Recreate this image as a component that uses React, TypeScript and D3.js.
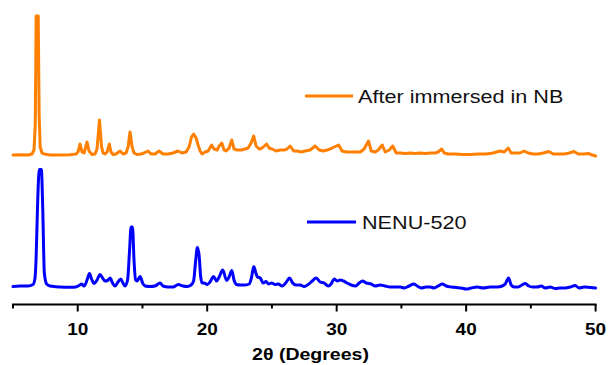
import React from "react";
import * as d3 from "d3";

// 2θ ticks
const majorTicks = [10, 20, 30, 40, 50];
const minorTicks = [5, 15, 25, 35, 45];

// Series labels
const seriesNames = ["After immersed in NB", "NENU-520"];
const seriesColors = ["#FF8000", "#0000FF"];
// vertical offsets of the stacked patterns (a.u.)
const seriesOffsets = [149.5, 18.5];

// After immersed in NB (2θ, intensity a.u.)
const nbTheta = [
  5.0, 5.54, 6.16, 6.47, 6.62, 6.72, 6.79, 6.85, 6.95, 7.02, 7.1, 7.24, 7.4,
  7.86, 8.63, 9.4, 9.87, 10.02, 10.18, 10.33, 10.49, 10.72, 10.87, 11.11, 11.34,
  11.49, 11.68, 11.84, 11.96, 12.11, 12.27, 12.44, 12.57, 12.73, 12.96, 13.27,
  13.5, 13.73, 13.89, 14.04, 14.2, 14.35, 14.58, 14.89, 15.12, 15.43, 15.66,
  15.97, 16.28, 16.59, 16.98, 17.36, 17.75, 18.06, 18.37, 18.6, 18.79, 18.95,
  19.14, 19.3, 19.45, 19.61, 19.84, 20.07, 20.34, 20.53, 20.77, 20.92, 21.13,
  21.3, 21.46, 21.69, 21.9, 22.07, 22.31, 22.62, 22.93, 23.16, 23.39, 23.59,
  23.78, 24.01, 24.24, 24.59, 24.78, 25.02, 25.32, 25.63, 25.94, 26.17, 26.41,
  26.68, 26.95, 27.26, 27.57, 27.95, 28.34, 28.65, 28.96, 29.27, 29.5, 29.81,
  30.15, 30.42, 30.73, 31.04, 31.43, 31.82, 32.12, 32.46, 32.67, 32.98, 33.21,
  33.52, 33.75, 34.06, 34.33, 34.6, 34.91, 35.29, 35.68, 36.07, 36.45, 36.84,
  37.23, 37.61, 37.84, 38.11, 38.31, 38.62, 39.16, 39.7, 40.32, 40.94, 41.55,
  42.09, 42.63, 42.94, 43.25, 43.48, 43.87, 44.17, 44.48, 44.79, 45.18, 45.57,
  45.96, 46.38, 46.73, 47.12, 47.58, 47.97, 48.32, 48.66, 49.05, 49.44, 49.75,
  50.0,
];
const nbIntensity = [
  0, 0.3, 0, 1, 5, 30, 139, 139, 139, 40, 8, 2, 1,
  0, 0, 0.3, 1, 3, 11, 3, 2, 13, 4, 0.5, 1,
  6, 35, 8, 2, 1, 3, 11, 3, 0.5, 1, 4,
  1, 2, 8, 23, 8, 2, 0.5, 1, 2, 4, 1,
  1, 4, 1, 1, 2, 4, 2, 3, 8, 18, 21,
  17, 10, 4, 1, 3, 4, 10, 6, 5, 9, 12,
  5, 4, 7, 15, 6, 5, 5, 6, 7, 12, 19,
  9, 6, 7, 11, 7, 6, 4, 5, 5, 6, 9,
  4, 4, 3, 4, 5, 9, 5, 4, 5, 6, 8,
  10, 4, 3, 3, 3, 3, 6, 14, 4, 3, 5,
  10, 3, 5, 9, 2, 2, 1.5, 2, 1.5, 2, 1.5,
  2, 2, 3, 6, 2, 1, 1, 0.5, 0.5, 1, 1,
  2, 4, 3, 7, 2, 2, 2, 4, 2, 1, 1,
  2, 3.5, 1, 1, 1, 2, 3.5, 1, 1, 1.5, 0,
  -1,
];

// NENU-520 (2θ, intensity a.u.)
const nenuTheta = [
  5.0, 5.54, 6.16, 6.55, 6.7, 6.78, 6.91, 7.03, 7.19, 7.3, 7.42, 7.6, 7.86,
  8.63, 9.4, 9.87, 10.1, 10.31, 10.49, 10.72, 10.9, 11.07, 11.26, 11.49, 11.72,
  11.92, 12.11, 12.3, 12.5, 12.69, 12.88, 13.11, 13.32, 13.49, 13.65, 13.85,
  14.0, 14.12, 14.23, 14.35, 14.47, 14.58, 14.82, 15.01, 15.2, 15.59, 15.97,
  16.36, 16.59, 16.98, 17.36, 17.77, 18.14, 18.45, 18.76, 18.95, 19.1, 19.24,
  19.38, 19.49, 19.61, 19.76, 19.99, 20.22, 20.49, 20.72, 20.92, 21.2, 21.5,
  21.69, 21.9, 22.07, 22.27, 22.54, 22.93, 23.24, 23.43, 23.6, 23.78, 23.89,
  24.09, 24.32, 24.55, 24.74, 24.98, 25.25, 25.48, 25.79, 26.06, 26.37, 26.6,
  26.87, 27.18, 27.49, 27.8, 28.11, 28.42, 28.73, 29.03, 29.34, 29.57, 29.81,
  30.04, 30.27, 30.53, 30.81, 31.12, 31.47, 31.74, 32.0, 32.28, 32.67, 32.98,
  33.36, 33.75, 34.13, 34.52, 34.91, 35.22, 35.6, 35.95, 36.22, 36.53, 36.92,
  37.23, 37.53, 37.84, 38.15, 38.46, 38.85, 39.23, 39.62, 40.01, 40.39, 40.86,
  41.32, 41.86, 42.4, 42.79, 43.02, 43.28, 43.48, 43.72, 44.03, 44.3, 44.57,
  44.84, 45.11, 45.49, 45.8, 46.11, 46.49, 46.88, 47.27, 47.66, 48.04, 48.42,
  48.73, 49.12, 49.58, 50.0,
];
const nenuIntensity = [
  -0.5, 0, 0, 1.5, 8, 26, 86, 116.5, 116.5, 76, 13, 2, 0,
  -1, -1.3, -1, 0.5, 2, 0, 6, 12.5, 7, 2.5, 6, 11.5,
  8, 5, 5.5, 8, 3, 0, 4, 7, 3, 0, 6,
  35, 59, 59, 25, 6, 5, 9.5, 3, 0, -0.5, 0,
  3, 0, -1, -1, 1.5, 0, -0.5, 1, 5, 24, 38.5,
  30, 10, 3, 3, 1.5, 4, 9.5, 5, 9, 16, 5.5,
  9, 15.5, 6, 1.5, 1, 1, 2, 9, 19.5, 12, 9,
  8, 3, 4.5, 2, 3, 1.5, 2, 0, 3, 8, 3,
  1, 1, -0.5, 1.5, 5, 8, 4, 3, 0, 2, 7,
  5, 6, 5, 3, 1, 0, 3, 5, 3, 2, 0,
  1, 0, -1, -1, -1, -2, 0, 2, 0, -2, -1,
  -1, -2, 0, 2, 0, -1, -1.5, -2, -3, -2, -1,
  -2, -1, -1, 0, 2, 8, 1, -1, -1, 1, 2.5,
  0, -1, -1, 0, -2, -1, -2.5, -2, -2, -1, 0.5,
  -2, -1, -1.5, -2,
];

const W = 608;
const H = 365;
const FONT = "'Liberation Sans', Arial, Helvetica, sans-serif";
const SX = 1.15; // horizontal text stretch seen in the reference

export default function App() {
  const x = d3.scaleLinear().domain([5, 50]).range([13, 595.6]);
  const y = d3.scaleLinear().domain([0, 290]).range([304.5, 14.5]);

  const mk = (thetas: number[], vals: number[], off: number, curve: d3.CurveFactory) =>
    d3
      .line<number>()
      .x((_, i) => x(thetas[i]))
      .y((v) => y(v + off))
      .curve(curve)(vals) || "";

  const paths = [
    mk(nbTheta, nbIntensity, seriesOffsets[0], d3.curveLinear),
    mk(nenuTheta, nenuIntensity, seriesOffsets[1], d3.curveMonotoneX),
  ];

  const axisY = y(0);
  const legend = [
    { x1: 305, x2: 353, y: 96, tx: 358, ty: 102.8 },
    { x1: 307, x2: 356, y: 222, tx: 362, ty: 229 },
  ];

  return (
    <svg
      width={W}
      height={H}
      viewBox={`0 0 ${W} ${H}`}
      style={{ position: "absolute", left: 0, top: 0, background: "#fff" }}
    >
      <rect x={0} y={0} width={W} height={H} fill="#fff" />
      {paths.map((d, i) => (
        <path
          key={i}
          d={d}
          fill="none"
          stroke={seriesColors[i]}
          strokeWidth={3}
          strokeLinejoin="round"
          strokeLinecap="round"
        />
      ))}

      {/* x axis */}
      <line x1={x(5) - 1} x2={x(50) + 1} y1={axisY} y2={axisY} stroke="#000" strokeWidth={2} />
      {majorTicks.map((t) => (
        <line key={"M" + t} x1={x(t)} x2={x(t)} y1={axisY} y2={axisY + 7} stroke="#000" strokeWidth={2} />
      ))}
      {minorTicks.map((t) => (
        <line key={"m" + t} x1={x(t)} x2={x(t)} y1={axisY} y2={axisY + 4} stroke="#000" strokeWidth={2} />
      ))}
      {majorTicks.map((t) => (
        <text
          key={"L" + t}
          transform={`translate(${x(t)},335) scale(${SX},1)`}
          textAnchor="middle"
          fontFamily={FONT}
          fontWeight="bold"
          fontSize={16.5}
          fill="#000"
        >
          {t}
        </text>
      ))}
      <text
        transform={`translate(310.5,359.5) scale(${SX},1)`}
        textAnchor="middle"
        fontFamily={FONT}
        fontWeight="bold"
        fontSize={17}
        fill="#000"
      >
        2θ (Degrees)
      </text>

      {/* legends */}
      {legend.map((l, i) => (
        <g key={"lg" + i}>
          <line x1={l.x1} x2={l.x2} y1={l.y} y2={l.y} stroke={seriesColors[i]} strokeWidth={2.8} />
          <text
            transform={`translate(${l.tx},${l.ty}) scale(${SX},1)`}
            fontFamily={FONT}
            fontSize={18.8}
            fill="#111"
          >
            {seriesNames[i]}
          </text>
        </g>
      ))}
    </svg>
  );
}
